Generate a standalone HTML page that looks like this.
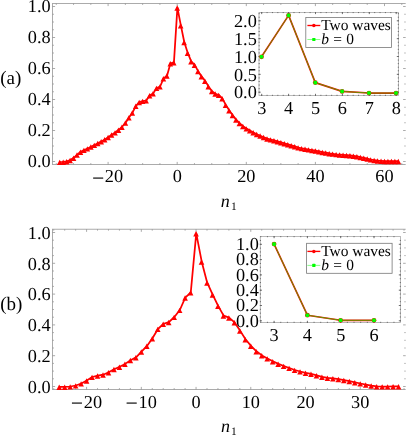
<!DOCTYPE html>
<html><head><meta charset="utf-8"><title>Figure</title>
<style>
html,body{margin:0;padding:0;background:#fff;}
body{width:407px;height:436px;overflow:hidden;font-family:"Liberation Serif",serif;}
svg{display:block;will-change:transform;}
svg text{font-family:"Liberation Serif",serif;fill:#000;text-rendering:geometricPrecision;}
#all{will-change:transform;}
</style></head>
<body>
<svg width="407" height="436" viewBox="0 0 407 436">
<g id="all">
<rect width="407" height="436" fill="#fff"/>
<line x1="52.50" y1="3.50" x2="405.70" y2="3.50" stroke="#8a8a8a" stroke-width="0.72"/>
<line x1="52.50" y1="164.50" x2="405.70" y2="164.50" stroke="#8a8a8a" stroke-width="0.72"/>
<line x1="52.50" y1="3.10" x2="52.50" y2="164.90" stroke="#8a8a8a" stroke-width="0.72"/>
<line x1="56.27" y1="164.50" x2="56.27" y2="163.10" stroke="#8a8a8a" stroke-width="0.72"/>
<line x1="56.27" y1="3.50" x2="56.27" y2="4.90" stroke="#8a8a8a" stroke-width="0.72"/>
<line x1="73.55" y1="164.50" x2="73.55" y2="163.10" stroke="#8a8a8a" stroke-width="0.72"/>
<line x1="73.55" y1="3.50" x2="73.55" y2="4.90" stroke="#8a8a8a" stroke-width="0.72"/>
<line x1="90.82" y1="164.50" x2="90.82" y2="163.10" stroke="#8a8a8a" stroke-width="0.72"/>
<line x1="90.82" y1="3.50" x2="90.82" y2="4.90" stroke="#8a8a8a" stroke-width="0.72"/>
<line x1="108.10" y1="164.50" x2="108.10" y2="161.90" stroke="#8a8a8a" stroke-width="0.72"/>
<line x1="108.10" y1="3.50" x2="108.10" y2="6.10" stroke="#8a8a8a" stroke-width="0.72"/>
<line x1="125.37" y1="164.50" x2="125.37" y2="163.10" stroke="#8a8a8a" stroke-width="0.72"/>
<line x1="125.37" y1="3.50" x2="125.37" y2="4.90" stroke="#8a8a8a" stroke-width="0.72"/>
<line x1="142.65" y1="164.50" x2="142.65" y2="163.10" stroke="#8a8a8a" stroke-width="0.72"/>
<line x1="142.65" y1="3.50" x2="142.65" y2="4.90" stroke="#8a8a8a" stroke-width="0.72"/>
<line x1="159.92" y1="164.50" x2="159.92" y2="163.10" stroke="#8a8a8a" stroke-width="0.72"/>
<line x1="159.92" y1="3.50" x2="159.92" y2="4.90" stroke="#8a8a8a" stroke-width="0.72"/>
<line x1="177.20" y1="164.50" x2="177.20" y2="161.90" stroke="#8a8a8a" stroke-width="0.72"/>
<line x1="177.20" y1="3.50" x2="177.20" y2="6.10" stroke="#8a8a8a" stroke-width="0.72"/>
<line x1="194.47" y1="164.50" x2="194.47" y2="163.10" stroke="#8a8a8a" stroke-width="0.72"/>
<line x1="194.47" y1="3.50" x2="194.47" y2="4.90" stroke="#8a8a8a" stroke-width="0.72"/>
<line x1="211.75" y1="164.50" x2="211.75" y2="163.10" stroke="#8a8a8a" stroke-width="0.72"/>
<line x1="211.75" y1="3.50" x2="211.75" y2="4.90" stroke="#8a8a8a" stroke-width="0.72"/>
<line x1="229.02" y1="164.50" x2="229.02" y2="163.10" stroke="#8a8a8a" stroke-width="0.72"/>
<line x1="229.02" y1="3.50" x2="229.02" y2="4.90" stroke="#8a8a8a" stroke-width="0.72"/>
<line x1="246.30" y1="164.50" x2="246.30" y2="161.90" stroke="#8a8a8a" stroke-width="0.72"/>
<line x1="246.30" y1="3.50" x2="246.30" y2="6.10" stroke="#8a8a8a" stroke-width="0.72"/>
<line x1="263.57" y1="164.50" x2="263.57" y2="163.10" stroke="#8a8a8a" stroke-width="0.72"/>
<line x1="263.57" y1="3.50" x2="263.57" y2="4.90" stroke="#8a8a8a" stroke-width="0.72"/>
<line x1="280.85" y1="164.50" x2="280.85" y2="163.10" stroke="#8a8a8a" stroke-width="0.72"/>
<line x1="280.85" y1="3.50" x2="280.85" y2="4.90" stroke="#8a8a8a" stroke-width="0.72"/>
<line x1="298.12" y1="164.50" x2="298.12" y2="163.10" stroke="#8a8a8a" stroke-width="0.72"/>
<line x1="298.12" y1="3.50" x2="298.12" y2="4.90" stroke="#8a8a8a" stroke-width="0.72"/>
<line x1="315.40" y1="164.50" x2="315.40" y2="161.90" stroke="#8a8a8a" stroke-width="0.72"/>
<line x1="315.40" y1="3.50" x2="315.40" y2="6.10" stroke="#8a8a8a" stroke-width="0.72"/>
<line x1="332.67" y1="164.50" x2="332.67" y2="163.10" stroke="#8a8a8a" stroke-width="0.72"/>
<line x1="332.67" y1="3.50" x2="332.67" y2="4.90" stroke="#8a8a8a" stroke-width="0.72"/>
<line x1="349.95" y1="164.50" x2="349.95" y2="163.10" stroke="#8a8a8a" stroke-width="0.72"/>
<line x1="349.95" y1="3.50" x2="349.95" y2="4.90" stroke="#8a8a8a" stroke-width="0.72"/>
<line x1="367.23" y1="164.50" x2="367.23" y2="163.10" stroke="#8a8a8a" stroke-width="0.72"/>
<line x1="367.23" y1="3.50" x2="367.23" y2="4.90" stroke="#8a8a8a" stroke-width="0.72"/>
<line x1="384.50" y1="164.50" x2="384.50" y2="161.90" stroke="#8a8a8a" stroke-width="0.72"/>
<line x1="384.50" y1="3.50" x2="384.50" y2="6.10" stroke="#8a8a8a" stroke-width="0.72"/>
<line x1="401.77" y1="164.50" x2="401.77" y2="163.10" stroke="#8a8a8a" stroke-width="0.72"/>
<line x1="401.77" y1="3.50" x2="401.77" y2="4.90" stroke="#8a8a8a" stroke-width="0.72"/>
<line x1="52.50" y1="161.50" x2="55.10" y2="161.50" stroke="#8a8a8a" stroke-width="0.72"/>
<line x1="405.70" y1="161.50" x2="403.10" y2="161.50" stroke="#8a8a8a" stroke-width="0.72"/>
<line x1="52.50" y1="153.75" x2="53.90" y2="153.75" stroke="#8a8a8a" stroke-width="0.72"/>
<line x1="405.70" y1="153.75" x2="404.30" y2="153.75" stroke="#8a8a8a" stroke-width="0.72"/>
<line x1="52.50" y1="146.00" x2="53.90" y2="146.00" stroke="#8a8a8a" stroke-width="0.72"/>
<line x1="405.70" y1="146.00" x2="404.30" y2="146.00" stroke="#8a8a8a" stroke-width="0.72"/>
<line x1="52.50" y1="138.25" x2="53.90" y2="138.25" stroke="#8a8a8a" stroke-width="0.72"/>
<line x1="405.70" y1="138.25" x2="404.30" y2="138.25" stroke="#8a8a8a" stroke-width="0.72"/>
<line x1="52.50" y1="130.50" x2="55.10" y2="130.50" stroke="#8a8a8a" stroke-width="0.72"/>
<line x1="405.70" y1="130.50" x2="403.10" y2="130.50" stroke="#8a8a8a" stroke-width="0.72"/>
<line x1="52.50" y1="122.75" x2="53.90" y2="122.75" stroke="#8a8a8a" stroke-width="0.72"/>
<line x1="405.70" y1="122.75" x2="404.30" y2="122.75" stroke="#8a8a8a" stroke-width="0.72"/>
<line x1="52.50" y1="115.00" x2="53.90" y2="115.00" stroke="#8a8a8a" stroke-width="0.72"/>
<line x1="405.70" y1="115.00" x2="404.30" y2="115.00" stroke="#8a8a8a" stroke-width="0.72"/>
<line x1="52.50" y1="107.25" x2="53.90" y2="107.25" stroke="#8a8a8a" stroke-width="0.72"/>
<line x1="405.70" y1="107.25" x2="404.30" y2="107.25" stroke="#8a8a8a" stroke-width="0.72"/>
<line x1="52.50" y1="99.50" x2="55.10" y2="99.50" stroke="#8a8a8a" stroke-width="0.72"/>
<line x1="405.70" y1="99.50" x2="403.10" y2="99.50" stroke="#8a8a8a" stroke-width="0.72"/>
<line x1="52.50" y1="91.75" x2="53.90" y2="91.75" stroke="#8a8a8a" stroke-width="0.72"/>
<line x1="405.70" y1="91.75" x2="404.30" y2="91.75" stroke="#8a8a8a" stroke-width="0.72"/>
<line x1="52.50" y1="84.00" x2="53.90" y2="84.00" stroke="#8a8a8a" stroke-width="0.72"/>
<line x1="405.70" y1="84.00" x2="404.30" y2="84.00" stroke="#8a8a8a" stroke-width="0.72"/>
<line x1="52.50" y1="76.25" x2="53.90" y2="76.25" stroke="#8a8a8a" stroke-width="0.72"/>
<line x1="405.70" y1="76.25" x2="404.30" y2="76.25" stroke="#8a8a8a" stroke-width="0.72"/>
<line x1="52.50" y1="68.50" x2="55.10" y2="68.50" stroke="#8a8a8a" stroke-width="0.72"/>
<line x1="405.70" y1="68.50" x2="403.10" y2="68.50" stroke="#8a8a8a" stroke-width="0.72"/>
<line x1="52.50" y1="60.75" x2="53.90" y2="60.75" stroke="#8a8a8a" stroke-width="0.72"/>
<line x1="405.70" y1="60.75" x2="404.30" y2="60.75" stroke="#8a8a8a" stroke-width="0.72"/>
<line x1="52.50" y1="53.00" x2="53.90" y2="53.00" stroke="#8a8a8a" stroke-width="0.72"/>
<line x1="405.70" y1="53.00" x2="404.30" y2="53.00" stroke="#8a8a8a" stroke-width="0.72"/>
<line x1="52.50" y1="45.25" x2="53.90" y2="45.25" stroke="#8a8a8a" stroke-width="0.72"/>
<line x1="405.70" y1="45.25" x2="404.30" y2="45.25" stroke="#8a8a8a" stroke-width="0.72"/>
<line x1="52.50" y1="37.50" x2="55.10" y2="37.50" stroke="#8a8a8a" stroke-width="0.72"/>
<line x1="405.70" y1="37.50" x2="403.10" y2="37.50" stroke="#8a8a8a" stroke-width="0.72"/>
<line x1="52.50" y1="29.75" x2="53.90" y2="29.75" stroke="#8a8a8a" stroke-width="0.72"/>
<line x1="405.70" y1="29.75" x2="404.30" y2="29.75" stroke="#8a8a8a" stroke-width="0.72"/>
<line x1="52.50" y1="22.00" x2="53.90" y2="22.00" stroke="#8a8a8a" stroke-width="0.72"/>
<line x1="405.70" y1="22.00" x2="404.30" y2="22.00" stroke="#8a8a8a" stroke-width="0.72"/>
<line x1="52.50" y1="14.25" x2="53.90" y2="14.25" stroke="#8a8a8a" stroke-width="0.72"/>
<line x1="405.70" y1="14.25" x2="404.30" y2="14.25" stroke="#8a8a8a" stroke-width="0.72"/>
<line x1="52.50" y1="6.50" x2="55.10" y2="6.50" stroke="#8a8a8a" stroke-width="0.72"/>
<line x1="405.70" y1="6.50" x2="403.10" y2="6.50" stroke="#8a8a8a" stroke-width="0.72"/>
<text x="92.14" y="184.65" font-size="21" stroke="#000" stroke-width="0.2">−</text>
<text x="104.80" y="182.40" font-size="18.3" text-anchor="start" >20</text>
<text x="177.20" y="182.40" font-size="18.3" text-anchor="middle" >0</text>
<text x="246.30" y="182.40" font-size="18.3" text-anchor="middle" >20</text>
<text x="315.40" y="182.40" font-size="18.3" text-anchor="middle" >40</text>
<text x="384.50" y="182.40" font-size="18.3" text-anchor="middle" >60</text>
<text x="50.60" y="167.25" font-size="18.3" text-anchor="end" >0.0</text>
<text x="50.60" y="136.25" font-size="18.3" text-anchor="end" >0.2</text>
<text x="50.60" y="105.25" font-size="18.3" text-anchor="end" >0.4</text>
<text x="50.60" y="74.25" font-size="18.3" text-anchor="end" >0.6</text>
<text x="50.60" y="43.25" font-size="18.3" text-anchor="end" >0.8</text>
<text x="50.60" y="12.25" font-size="18.3" text-anchor="end" >1.0</text>
<polyline points="59.93,162.00 63.38,161.90 66.84,161.40 70.29,160.10 73.75,157.80 77.20,154.60 80.66,151.80 84.11,150.00 87.57,148.50 91.02,146.70 94.48,145.00 97.93,143.20 101.39,141.40 104.84,139.40 108.30,137.20 111.75,134.70 115.21,132.50 118.66,129.80 122.12,126.80 125.57,122.70 129.03,117.50 132.48,112.60 135.94,105.90 139.39,102.20 142.85,101.00 146.30,100.50 149.76,95.30 153.21,93.40 156.67,88.00 160.12,86.50 163.58,78.40 167.03,75.70 170.49,63.30 173.94,62.40 177.40,7.60 180.85,25.30 184.31,42.20 187.76,52.90 191.22,61.30 194.67,64.90 198.13,71.20 201.58,76.40 205.04,80.80 208.49,86.40 211.95,91.20 215.40,93.70 218.86,95.00 222.31,98.30 225.77,104.90 229.22,110.30 232.68,115.20 236.13,119.60 239.59,123.10 243.04,126.10 246.50,128.50 249.95,130.50 253.41,132.40 256.86,134.20 260.32,135.70 263.77,137.20 267.23,138.60 270.69,139.52 274.14,140.44 277.59,141.36 281.05,142.31 284.50,143.35 287.96,144.38 291.41,145.42 294.87,146.45 298.32,147.49 301.78,148.27 305.23,148.88 308.69,149.50 312.14,150.11 315.60,150.72 319.06,151.34 322.51,152.03 325.96,152.72 329.42,153.29 332.87,153.77 336.33,154.26 339.78,154.60 343.24,154.89 346.69,155.17 350.15,155.40 353.60,155.90 357.06,156.40 360.51,157.10 363.97,157.80 367.43,158.65 370.88,159.50 374.33,160.10 377.79,160.70 381.24,160.95 384.70,161.20 388.15,161.20 391.61,161.20 395.06,161.20 398.52,161.20" fill="none" stroke="#f00" stroke-width="1.75" stroke-linejoin="round"/>
<path d="M59.73 159.65L56.93 165.10L62.53 165.10Z" fill="#f00"/>
<path d="M63.18 159.55L60.38 165.00L65.98 165.00Z" fill="#f00"/>
<path d="M66.64 159.05L63.84 164.50L69.44 164.50Z" fill="#f00"/>
<path d="M70.09 157.75L67.29 163.20L72.89 163.20Z" fill="#f00"/>
<path d="M73.55 155.45L70.75 160.90L76.35 160.90Z" fill="#f00"/>
<path d="M77.00 152.25L74.20 157.70L79.80 157.70Z" fill="#f00"/>
<path d="M80.46 149.45L77.66 154.90L83.26 154.90Z" fill="#f00"/>
<path d="M83.91 147.65L81.11 153.10L86.71 153.10Z" fill="#f00"/>
<path d="M87.37 146.15L84.57 151.60L90.17 151.60Z" fill="#f00"/>
<path d="M90.82 144.35L88.02 149.80L93.62 149.80Z" fill="#f00"/>
<path d="M94.28 142.65L91.48 148.10L97.08 148.10Z" fill="#f00"/>
<path d="M97.73 140.85L94.93 146.30L100.53 146.30Z" fill="#f00"/>
<path d="M101.19 139.05L98.39 144.50L103.99 144.50Z" fill="#f00"/>
<path d="M104.64 137.05L101.84 142.50L107.44 142.50Z" fill="#f00"/>
<path d="M108.10 134.85L105.30 140.30L110.90 140.30Z" fill="#f00"/>
<path d="M111.55 132.35L108.75 137.80L114.35 137.80Z" fill="#f00"/>
<path d="M115.01 130.15L112.21 135.60L117.81 135.60Z" fill="#f00"/>
<path d="M118.46 127.45L115.66 132.90L121.26 132.90Z" fill="#f00"/>
<path d="M121.92 124.45L119.12 129.90L124.72 129.90Z" fill="#f00"/>
<path d="M125.37 120.35L122.57 125.80L128.17 125.80Z" fill="#f00"/>
<path d="M128.83 115.15L126.03 120.60L131.63 120.60Z" fill="#f00"/>
<path d="M132.28 110.25L129.48 115.70L135.09 115.70Z" fill="#f00"/>
<path d="M135.74 103.55L132.94 109.00L138.54 109.00Z" fill="#f00"/>
<path d="M139.19 99.85L136.39 105.30L142.00 105.30Z" fill="#f00"/>
<path d="M142.65 98.65L139.85 104.10L145.45 104.10Z" fill="#f00"/>
<path d="M146.10 98.15L143.30 103.60L148.91 103.60Z" fill="#f00"/>
<path d="M149.56 92.95L146.76 98.40L152.36 98.40Z" fill="#f00"/>
<path d="M153.01 91.05L150.21 96.50L155.81 96.50Z" fill="#f00"/>
<path d="M156.47 85.65L153.67 91.10L159.27 91.10Z" fill="#f00"/>
<path d="M159.92 84.15L157.12 89.60L162.72 89.60Z" fill="#f00"/>
<path d="M163.38 76.05L160.58 81.50L166.18 81.50Z" fill="#f00"/>
<path d="M166.83 73.35L164.03 78.80L169.63 78.80Z" fill="#f00"/>
<path d="M170.29 60.95L167.49 66.40L173.09 66.40Z" fill="#f00"/>
<path d="M173.74 60.05L170.94 65.50L176.54 65.50Z" fill="#f00"/>
<path d="M177.20 5.25L174.40 10.70L180.00 10.70Z" fill="#f00"/>
<path d="M180.66 22.95L177.85 28.40L183.46 28.40Z" fill="#f00"/>
<path d="M184.11 39.85L181.31 45.30L186.91 45.30Z" fill="#f00"/>
<path d="M187.56 50.55L184.76 56.00L190.37 56.00Z" fill="#f00"/>
<path d="M191.02 58.95L188.22 64.40L193.82 64.40Z" fill="#f00"/>
<path d="M194.47 62.55L191.67 68.00L197.28 68.00Z" fill="#f00"/>
<path d="M197.93 68.85L195.13 74.30L200.73 74.30Z" fill="#f00"/>
<path d="M201.38 74.05L198.58 79.50L204.19 79.50Z" fill="#f00"/>
<path d="M204.84 78.45L202.04 83.90L207.64 83.90Z" fill="#f00"/>
<path d="M208.29 84.05L205.49 89.50L211.09 89.50Z" fill="#f00"/>
<path d="M211.75 88.85L208.95 94.30L214.55 94.30Z" fill="#f00"/>
<path d="M215.20 91.35L212.40 96.80L218.00 96.80Z" fill="#f00"/>
<path d="M218.66 92.65L215.86 98.10L221.46 98.10Z" fill="#f00"/>
<path d="M222.11 95.95L219.31 101.40L224.91 101.40Z" fill="#f00"/>
<path d="M225.57 102.55L222.77 108.00L228.37 108.00Z" fill="#f00"/>
<path d="M229.02 107.95L226.22 113.40L231.82 113.40Z" fill="#f00"/>
<path d="M232.48 112.85L229.68 118.30L235.28 118.30Z" fill="#f00"/>
<path d="M235.94 117.25L233.13 122.70L238.74 122.70Z" fill="#f00"/>
<path d="M239.39 120.75L236.59 126.20L242.19 126.20Z" fill="#f00"/>
<path d="M242.84 123.75L240.04 129.20L245.64 129.20Z" fill="#f00"/>
<path d="M246.30 126.15L243.50 131.60L249.10 131.60Z" fill="#f00"/>
<path d="M249.75 128.15L246.95 133.60L252.56 133.60Z" fill="#f00"/>
<path d="M253.21 130.05L250.41 135.50L256.01 135.50Z" fill="#f00"/>
<path d="M256.66 131.85L253.86 137.30L259.46 137.30Z" fill="#f00"/>
<path d="M260.12 133.35L257.32 138.80L262.92 138.80Z" fill="#f00"/>
<path d="M263.57 134.85L260.77 140.30L266.38 140.30Z" fill="#f00"/>
<path d="M267.03 136.25L264.23 141.70L269.83 141.70Z" fill="#f00"/>
<path d="M270.49 137.17L267.69 142.62L273.29 142.62Z" fill="#f00"/>
<path d="M273.94 138.09L271.14 143.54L276.74 143.54Z" fill="#f00"/>
<path d="M277.39 139.01L274.59 144.46L280.19 144.46Z" fill="#f00"/>
<path d="M280.85 139.96L278.05 145.41L283.65 145.41Z" fill="#f00"/>
<path d="M284.31 141.00L281.50 146.45L287.11 146.45Z" fill="#f00"/>
<path d="M287.76 142.03L284.96 147.48L290.56 147.48Z" fill="#f00"/>
<path d="M291.21 143.07L288.41 148.52L294.01 148.52Z" fill="#f00"/>
<path d="M294.67 144.10L291.87 149.55L297.47 149.55Z" fill="#f00"/>
<path d="M298.12 145.14L295.32 150.59L300.93 150.59Z" fill="#f00"/>
<path d="M301.58 145.92L298.78 151.37L304.38 151.37Z" fill="#f00"/>
<path d="M305.03 146.53L302.23 151.98L307.83 151.98Z" fill="#f00"/>
<path d="M308.49 147.15L305.69 152.60L311.29 152.60Z" fill="#f00"/>
<path d="M311.94 147.76L309.14 153.21L314.75 153.21Z" fill="#f00"/>
<path d="M315.40 148.37L312.60 153.82L318.20 153.82Z" fill="#f00"/>
<path d="M318.86 148.99L316.06 154.44L321.66 154.44Z" fill="#f00"/>
<path d="M322.31 149.68L319.51 155.13L325.11 155.13Z" fill="#f00"/>
<path d="M325.76 150.37L322.96 155.82L328.56 155.82Z" fill="#f00"/>
<path d="M329.22 150.94L326.42 156.39L332.02 156.39Z" fill="#f00"/>
<path d="M332.67 151.42L329.87 156.87L335.47 156.87Z" fill="#f00"/>
<path d="M336.13 151.91L333.33 157.36L338.93 157.36Z" fill="#f00"/>
<path d="M339.58 152.25L336.78 157.70L342.38 157.70Z" fill="#f00"/>
<path d="M343.04 152.54L340.24 157.99L345.84 157.99Z" fill="#f00"/>
<path d="M346.50 152.82L343.69 158.27L349.30 158.27Z" fill="#f00"/>
<path d="M349.95 153.05L347.15 158.50L352.75 158.50Z" fill="#f00"/>
<path d="M353.40 153.55L350.60 159.00L356.20 159.00Z" fill="#f00"/>
<path d="M356.86 154.05L354.06 159.50L359.66 159.50Z" fill="#f00"/>
<path d="M360.31 154.75L357.51 160.20L363.12 160.20Z" fill="#f00"/>
<path d="M363.77 155.45L360.97 160.90L366.57 160.90Z" fill="#f00"/>
<path d="M367.23 156.30L364.43 161.75L370.03 161.75Z" fill="#f00"/>
<path d="M370.68 157.15L367.88 162.60L373.48 162.60Z" fill="#f00"/>
<path d="M374.13 157.75L371.33 163.20L376.94 163.20Z" fill="#f00"/>
<path d="M377.59 158.35L374.79 163.80L380.39 163.80Z" fill="#f00"/>
<path d="M381.04 158.60L378.24 164.05L383.84 164.05Z" fill="#f00"/>
<path d="M384.50 158.85L381.70 164.30L387.30 164.30Z" fill="#f00"/>
<path d="M387.95 158.85L385.15 164.30L390.75 164.30Z" fill="#f00"/>
<path d="M391.41 158.85L388.61 164.30L394.21 164.30Z" fill="#f00"/>
<path d="M394.87 158.85L392.06 164.30L397.67 164.30Z" fill="#f00"/>
<path d="M398.32 158.85L395.52 164.30L401.12 164.30Z" fill="#f00"/>
<line x1="52.50" y1="229.25" x2="405.70" y2="229.25" stroke="#8a8a8a" stroke-width="0.72"/>
<line x1="52.50" y1="389.50" x2="405.70" y2="389.50" stroke="#8a8a8a" stroke-width="0.72"/>
<line x1="52.50" y1="228.85" x2="52.50" y2="389.90" stroke="#8a8a8a" stroke-width="0.72"/>
<line x1="53.74" y1="389.50" x2="53.74" y2="388.10" stroke="#8a8a8a" stroke-width="0.72"/>
<line x1="53.74" y1="229.25" x2="53.74" y2="230.65" stroke="#8a8a8a" stroke-width="0.72"/>
<line x1="64.69" y1="389.50" x2="64.69" y2="388.10" stroke="#8a8a8a" stroke-width="0.72"/>
<line x1="64.69" y1="229.25" x2="64.69" y2="230.65" stroke="#8a8a8a" stroke-width="0.72"/>
<line x1="75.64" y1="389.50" x2="75.64" y2="388.10" stroke="#8a8a8a" stroke-width="0.72"/>
<line x1="75.64" y1="229.25" x2="75.64" y2="230.65" stroke="#8a8a8a" stroke-width="0.72"/>
<line x1="86.58" y1="389.50" x2="86.58" y2="386.90" stroke="#8a8a8a" stroke-width="0.72"/>
<line x1="86.58" y1="229.25" x2="86.58" y2="231.85" stroke="#8a8a8a" stroke-width="0.72"/>
<line x1="97.53" y1="389.50" x2="97.53" y2="388.10" stroke="#8a8a8a" stroke-width="0.72"/>
<line x1="97.53" y1="229.25" x2="97.53" y2="230.65" stroke="#8a8a8a" stroke-width="0.72"/>
<line x1="108.48" y1="389.50" x2="108.48" y2="388.10" stroke="#8a8a8a" stroke-width="0.72"/>
<line x1="108.48" y1="229.25" x2="108.48" y2="230.65" stroke="#8a8a8a" stroke-width="0.72"/>
<line x1="119.42" y1="389.50" x2="119.42" y2="388.10" stroke="#8a8a8a" stroke-width="0.72"/>
<line x1="119.42" y1="229.25" x2="119.42" y2="230.65" stroke="#8a8a8a" stroke-width="0.72"/>
<line x1="130.37" y1="389.50" x2="130.37" y2="388.10" stroke="#8a8a8a" stroke-width="0.72"/>
<line x1="130.37" y1="229.25" x2="130.37" y2="230.65" stroke="#8a8a8a" stroke-width="0.72"/>
<line x1="141.32" y1="389.50" x2="141.32" y2="386.90" stroke="#8a8a8a" stroke-width="0.72"/>
<line x1="141.32" y1="229.25" x2="141.32" y2="231.85" stroke="#8a8a8a" stroke-width="0.72"/>
<line x1="152.26" y1="389.50" x2="152.26" y2="388.10" stroke="#8a8a8a" stroke-width="0.72"/>
<line x1="152.26" y1="229.25" x2="152.26" y2="230.65" stroke="#8a8a8a" stroke-width="0.72"/>
<line x1="163.21" y1="389.50" x2="163.21" y2="388.10" stroke="#8a8a8a" stroke-width="0.72"/>
<line x1="163.21" y1="229.25" x2="163.21" y2="230.65" stroke="#8a8a8a" stroke-width="0.72"/>
<line x1="174.16" y1="389.50" x2="174.16" y2="388.10" stroke="#8a8a8a" stroke-width="0.72"/>
<line x1="174.16" y1="229.25" x2="174.16" y2="230.65" stroke="#8a8a8a" stroke-width="0.72"/>
<line x1="185.10" y1="389.50" x2="185.10" y2="388.10" stroke="#8a8a8a" stroke-width="0.72"/>
<line x1="185.10" y1="229.25" x2="185.10" y2="230.65" stroke="#8a8a8a" stroke-width="0.72"/>
<line x1="196.05" y1="389.50" x2="196.05" y2="386.90" stroke="#8a8a8a" stroke-width="0.72"/>
<line x1="196.05" y1="229.25" x2="196.05" y2="231.85" stroke="#8a8a8a" stroke-width="0.72"/>
<line x1="207.00" y1="389.50" x2="207.00" y2="388.10" stroke="#8a8a8a" stroke-width="0.72"/>
<line x1="207.00" y1="229.25" x2="207.00" y2="230.65" stroke="#8a8a8a" stroke-width="0.72"/>
<line x1="217.94" y1="389.50" x2="217.94" y2="388.10" stroke="#8a8a8a" stroke-width="0.72"/>
<line x1="217.94" y1="229.25" x2="217.94" y2="230.65" stroke="#8a8a8a" stroke-width="0.72"/>
<line x1="228.89" y1="389.50" x2="228.89" y2="388.10" stroke="#8a8a8a" stroke-width="0.72"/>
<line x1="228.89" y1="229.25" x2="228.89" y2="230.65" stroke="#8a8a8a" stroke-width="0.72"/>
<line x1="239.84" y1="389.50" x2="239.84" y2="388.10" stroke="#8a8a8a" stroke-width="0.72"/>
<line x1="239.84" y1="229.25" x2="239.84" y2="230.65" stroke="#8a8a8a" stroke-width="0.72"/>
<line x1="250.78" y1="389.50" x2="250.78" y2="386.90" stroke="#8a8a8a" stroke-width="0.72"/>
<line x1="250.78" y1="229.25" x2="250.78" y2="231.85" stroke="#8a8a8a" stroke-width="0.72"/>
<line x1="261.73" y1="389.50" x2="261.73" y2="388.10" stroke="#8a8a8a" stroke-width="0.72"/>
<line x1="261.73" y1="229.25" x2="261.73" y2="230.65" stroke="#8a8a8a" stroke-width="0.72"/>
<line x1="272.68" y1="389.50" x2="272.68" y2="388.10" stroke="#8a8a8a" stroke-width="0.72"/>
<line x1="272.68" y1="229.25" x2="272.68" y2="230.65" stroke="#8a8a8a" stroke-width="0.72"/>
<line x1="283.62" y1="389.50" x2="283.62" y2="388.10" stroke="#8a8a8a" stroke-width="0.72"/>
<line x1="283.62" y1="229.25" x2="283.62" y2="230.65" stroke="#8a8a8a" stroke-width="0.72"/>
<line x1="294.57" y1="389.50" x2="294.57" y2="388.10" stroke="#8a8a8a" stroke-width="0.72"/>
<line x1="294.57" y1="229.25" x2="294.57" y2="230.65" stroke="#8a8a8a" stroke-width="0.72"/>
<line x1="305.52" y1="389.50" x2="305.52" y2="386.90" stroke="#8a8a8a" stroke-width="0.72"/>
<line x1="305.52" y1="229.25" x2="305.52" y2="231.85" stroke="#8a8a8a" stroke-width="0.72"/>
<line x1="316.46" y1="389.50" x2="316.46" y2="388.10" stroke="#8a8a8a" stroke-width="0.72"/>
<line x1="316.46" y1="229.25" x2="316.46" y2="230.65" stroke="#8a8a8a" stroke-width="0.72"/>
<line x1="327.41" y1="389.50" x2="327.41" y2="388.10" stroke="#8a8a8a" stroke-width="0.72"/>
<line x1="327.41" y1="229.25" x2="327.41" y2="230.65" stroke="#8a8a8a" stroke-width="0.72"/>
<line x1="338.36" y1="389.50" x2="338.36" y2="388.10" stroke="#8a8a8a" stroke-width="0.72"/>
<line x1="338.36" y1="229.25" x2="338.36" y2="230.65" stroke="#8a8a8a" stroke-width="0.72"/>
<line x1="349.31" y1="389.50" x2="349.31" y2="388.10" stroke="#8a8a8a" stroke-width="0.72"/>
<line x1="349.31" y1="229.25" x2="349.31" y2="230.65" stroke="#8a8a8a" stroke-width="0.72"/>
<line x1="360.25" y1="389.50" x2="360.25" y2="386.90" stroke="#8a8a8a" stroke-width="0.72"/>
<line x1="360.25" y1="229.25" x2="360.25" y2="231.85" stroke="#8a8a8a" stroke-width="0.72"/>
<line x1="371.20" y1="389.50" x2="371.20" y2="388.10" stroke="#8a8a8a" stroke-width="0.72"/>
<line x1="371.20" y1="229.25" x2="371.20" y2="230.65" stroke="#8a8a8a" stroke-width="0.72"/>
<line x1="382.15" y1="389.50" x2="382.15" y2="388.10" stroke="#8a8a8a" stroke-width="0.72"/>
<line x1="382.15" y1="229.25" x2="382.15" y2="230.65" stroke="#8a8a8a" stroke-width="0.72"/>
<line x1="393.09" y1="389.50" x2="393.09" y2="388.10" stroke="#8a8a8a" stroke-width="0.72"/>
<line x1="393.09" y1="229.25" x2="393.09" y2="230.65" stroke="#8a8a8a" stroke-width="0.72"/>
<line x1="404.04" y1="389.50" x2="404.04" y2="388.10" stroke="#8a8a8a" stroke-width="0.72"/>
<line x1="404.04" y1="229.25" x2="404.04" y2="230.65" stroke="#8a8a8a" stroke-width="0.72"/>
<line x1="52.50" y1="386.50" x2="55.10" y2="386.50" stroke="#8a8a8a" stroke-width="0.72"/>
<line x1="405.70" y1="386.50" x2="403.10" y2="386.50" stroke="#8a8a8a" stroke-width="0.72"/>
<line x1="52.50" y1="378.80" x2="53.90" y2="378.80" stroke="#8a8a8a" stroke-width="0.72"/>
<line x1="405.70" y1="378.80" x2="404.30" y2="378.80" stroke="#8a8a8a" stroke-width="0.72"/>
<line x1="52.50" y1="371.10" x2="53.90" y2="371.10" stroke="#8a8a8a" stroke-width="0.72"/>
<line x1="405.70" y1="371.10" x2="404.30" y2="371.10" stroke="#8a8a8a" stroke-width="0.72"/>
<line x1="52.50" y1="363.40" x2="53.90" y2="363.40" stroke="#8a8a8a" stroke-width="0.72"/>
<line x1="405.70" y1="363.40" x2="404.30" y2="363.40" stroke="#8a8a8a" stroke-width="0.72"/>
<line x1="52.50" y1="355.70" x2="55.10" y2="355.70" stroke="#8a8a8a" stroke-width="0.72"/>
<line x1="405.70" y1="355.70" x2="403.10" y2="355.70" stroke="#8a8a8a" stroke-width="0.72"/>
<line x1="52.50" y1="348.00" x2="53.90" y2="348.00" stroke="#8a8a8a" stroke-width="0.72"/>
<line x1="405.70" y1="348.00" x2="404.30" y2="348.00" stroke="#8a8a8a" stroke-width="0.72"/>
<line x1="52.50" y1="340.30" x2="53.90" y2="340.30" stroke="#8a8a8a" stroke-width="0.72"/>
<line x1="405.70" y1="340.30" x2="404.30" y2="340.30" stroke="#8a8a8a" stroke-width="0.72"/>
<line x1="52.50" y1="332.60" x2="53.90" y2="332.60" stroke="#8a8a8a" stroke-width="0.72"/>
<line x1="405.70" y1="332.60" x2="404.30" y2="332.60" stroke="#8a8a8a" stroke-width="0.72"/>
<line x1="52.50" y1="324.90" x2="55.10" y2="324.90" stroke="#8a8a8a" stroke-width="0.72"/>
<line x1="405.70" y1="324.90" x2="403.10" y2="324.90" stroke="#8a8a8a" stroke-width="0.72"/>
<line x1="52.50" y1="317.20" x2="53.90" y2="317.20" stroke="#8a8a8a" stroke-width="0.72"/>
<line x1="405.70" y1="317.20" x2="404.30" y2="317.20" stroke="#8a8a8a" stroke-width="0.72"/>
<line x1="52.50" y1="309.50" x2="53.90" y2="309.50" stroke="#8a8a8a" stroke-width="0.72"/>
<line x1="405.70" y1="309.50" x2="404.30" y2="309.50" stroke="#8a8a8a" stroke-width="0.72"/>
<line x1="52.50" y1="301.80" x2="53.90" y2="301.80" stroke="#8a8a8a" stroke-width="0.72"/>
<line x1="405.70" y1="301.80" x2="404.30" y2="301.80" stroke="#8a8a8a" stroke-width="0.72"/>
<line x1="52.50" y1="294.10" x2="55.10" y2="294.10" stroke="#8a8a8a" stroke-width="0.72"/>
<line x1="405.70" y1="294.10" x2="403.10" y2="294.10" stroke="#8a8a8a" stroke-width="0.72"/>
<line x1="52.50" y1="286.40" x2="53.90" y2="286.40" stroke="#8a8a8a" stroke-width="0.72"/>
<line x1="405.70" y1="286.40" x2="404.30" y2="286.40" stroke="#8a8a8a" stroke-width="0.72"/>
<line x1="52.50" y1="278.70" x2="53.90" y2="278.70" stroke="#8a8a8a" stroke-width="0.72"/>
<line x1="405.70" y1="278.70" x2="404.30" y2="278.70" stroke="#8a8a8a" stroke-width="0.72"/>
<line x1="52.50" y1="271.00" x2="53.90" y2="271.00" stroke="#8a8a8a" stroke-width="0.72"/>
<line x1="405.70" y1="271.00" x2="404.30" y2="271.00" stroke="#8a8a8a" stroke-width="0.72"/>
<line x1="52.50" y1="263.30" x2="55.10" y2="263.30" stroke="#8a8a8a" stroke-width="0.72"/>
<line x1="405.70" y1="263.30" x2="403.10" y2="263.30" stroke="#8a8a8a" stroke-width="0.72"/>
<line x1="52.50" y1="255.60" x2="53.90" y2="255.60" stroke="#8a8a8a" stroke-width="0.72"/>
<line x1="405.70" y1="255.60" x2="404.30" y2="255.60" stroke="#8a8a8a" stroke-width="0.72"/>
<line x1="52.50" y1="247.90" x2="53.90" y2="247.90" stroke="#8a8a8a" stroke-width="0.72"/>
<line x1="405.70" y1="247.90" x2="404.30" y2="247.90" stroke="#8a8a8a" stroke-width="0.72"/>
<line x1="52.50" y1="240.20" x2="53.90" y2="240.20" stroke="#8a8a8a" stroke-width="0.72"/>
<line x1="405.70" y1="240.20" x2="404.30" y2="240.20" stroke="#8a8a8a" stroke-width="0.72"/>
<line x1="52.50" y1="232.50" x2="55.10" y2="232.50" stroke="#8a8a8a" stroke-width="0.72"/>
<line x1="405.70" y1="232.50" x2="403.10" y2="232.50" stroke="#8a8a8a" stroke-width="0.72"/>
<text x="71.02" y="410.05" font-size="21" stroke="#000" stroke-width="0.2">−</text>
<text x="83.78" y="407.80" font-size="18.3" text-anchor="start" >20</text>
<text x="125.76" y="410.05" font-size="21" stroke="#000" stroke-width="0.2">−</text>
<text x="138.52" y="407.80" font-size="18.3" text-anchor="start" >10</text>
<text x="196.05" y="407.80" font-size="18.3" text-anchor="middle" >0</text>
<text x="250.78" y="407.80" font-size="18.3" text-anchor="middle" >10</text>
<text x="305.52" y="407.80" font-size="18.3" text-anchor="middle" >20</text>
<text x="360.25" y="407.80" font-size="18.3" text-anchor="middle" >30</text>
<text x="50.60" y="393.10" font-size="18.3" text-anchor="end" >0.0</text>
<text x="50.60" y="362.20" font-size="18.3" text-anchor="end" >0.2</text>
<text x="50.60" y="331.30" font-size="18.3" text-anchor="end" >0.4</text>
<text x="50.60" y="300.40" font-size="18.3" text-anchor="end" >0.6</text>
<text x="50.60" y="269.50" font-size="18.3" text-anchor="end" >0.8</text>
<text x="50.60" y="238.60" font-size="18.3" text-anchor="end" >1.0</text>
<polyline points="59.42,386.90 64.89,386.90 70.36,386.50 75.84,385.50 81.31,383.50 86.78,380.60 92.26,377.00 97.73,375.70 103.20,374.70 108.68,372.30 114.15,369.20 119.62,366.80 125.10,363.90 130.57,360.20 136.04,357.40 141.52,351.70 146.99,345.90 152.46,338.30 157.94,329.00 163.41,323.80 168.88,322.20 174.36,317.00 179.83,310.00 185.30,297.70 190.78,292.40 196.25,233.30 201.72,261.70 207.20,282.70 212.67,294.60 218.14,305.90 223.62,315.60 229.09,317.60 234.56,322.40 240.04,330.60 245.51,339.30 250.98,345.90 256.46,351.30 261.93,355.40 267.40,358.50 272.88,361.30 278.35,363.90 283.82,366.00 289.30,368.00 294.77,370.00 300.24,371.50 305.72,372.90 311.19,373.90 316.66,375.30 322.14,376.80 327.61,377.80 333.08,378.40 338.56,379.20 344.03,380.20 349.51,381.10 354.98,382.40 360.45,383.50 365.93,384.70 371.40,385.60 376.87,386.30 382.35,386.50 387.82,386.50 393.29,386.30 398.77,386.30" fill="none" stroke="#f00" stroke-width="1.75" stroke-linejoin="round"/>
<path d="M59.22 384.55L56.42 390.00L62.02 390.00Z" fill="#f00"/>
<path d="M64.69 384.55L61.89 390.00L67.49 390.00Z" fill="#f00"/>
<path d="M70.16 384.15L67.36 389.60L72.96 389.60Z" fill="#f00"/>
<path d="M75.64 383.15L72.84 388.60L78.44 388.60Z" fill="#f00"/>
<path d="M81.11 381.15L78.31 386.60L83.91 386.60Z" fill="#f00"/>
<path d="M86.58 378.25L83.78 383.70L89.38 383.70Z" fill="#f00"/>
<path d="M92.06 374.65L89.26 380.10L94.86 380.10Z" fill="#f00"/>
<path d="M97.53 373.35L94.73 378.80L100.33 378.80Z" fill="#f00"/>
<path d="M103.00 372.35L100.20 377.80L105.80 377.80Z" fill="#f00"/>
<path d="M108.48 369.95L105.68 375.40L111.28 375.40Z" fill="#f00"/>
<path d="M113.95 366.85L111.15 372.30L116.75 372.30Z" fill="#f00"/>
<path d="M119.42 364.45L116.62 369.90L122.22 369.90Z" fill="#f00"/>
<path d="M124.90 361.55L122.10 367.00L127.70 367.00Z" fill="#f00"/>
<path d="M130.37 357.85L127.57 363.30L133.17 363.30Z" fill="#f00"/>
<path d="M135.84 355.05L133.04 360.50L138.64 360.50Z" fill="#f00"/>
<path d="M141.32 349.35L138.52 354.80L144.12 354.80Z" fill="#f00"/>
<path d="M146.79 343.55L143.99 349.00L149.59 349.00Z" fill="#f00"/>
<path d="M152.26 335.95L149.46 341.40L155.06 341.40Z" fill="#f00"/>
<path d="M157.74 326.65L154.94 332.10L160.54 332.10Z" fill="#f00"/>
<path d="M163.21 321.45L160.41 326.90L166.01 326.90Z" fill="#f00"/>
<path d="M168.68 319.85L165.88 325.30L171.48 325.30Z" fill="#f00"/>
<path d="M174.16 314.65L171.36 320.10L176.96 320.10Z" fill="#f00"/>
<path d="M179.63 307.65L176.83 313.10L182.43 313.10Z" fill="#f00"/>
<path d="M185.10 295.35L182.30 300.80L187.90 300.80Z" fill="#f00"/>
<path d="M190.58 290.05L187.78 295.50L193.38 295.50Z" fill="#f00"/>
<path d="M196.05 230.95L193.25 236.40L198.85 236.40Z" fill="#f00"/>
<path d="M201.52 259.35L198.72 264.80L204.32 264.80Z" fill="#f00"/>
<path d="M207.00 280.35L204.20 285.80L209.80 285.80Z" fill="#f00"/>
<path d="M212.47 292.25L209.67 297.70L215.27 297.70Z" fill="#f00"/>
<path d="M217.94 303.55L215.14 309.00L220.74 309.00Z" fill="#f00"/>
<path d="M223.42 313.25L220.62 318.70L226.22 318.70Z" fill="#f00"/>
<path d="M228.89 315.25L226.09 320.70L231.69 320.70Z" fill="#f00"/>
<path d="M234.36 320.05L231.56 325.50L237.16 325.50Z" fill="#f00"/>
<path d="M239.84 328.25L237.04 333.70L242.64 333.70Z" fill="#f00"/>
<path d="M245.31 336.95L242.51 342.40L248.11 342.40Z" fill="#f00"/>
<path d="M250.78 343.55L247.98 349.00L253.58 349.00Z" fill="#f00"/>
<path d="M256.26 348.95L253.46 354.40L259.06 354.40Z" fill="#f00"/>
<path d="M261.73 353.05L258.93 358.50L264.53 358.50Z" fill="#f00"/>
<path d="M267.20 356.15L264.40 361.60L270.00 361.60Z" fill="#f00"/>
<path d="M272.68 358.95L269.88 364.40L275.48 364.40Z" fill="#f00"/>
<path d="M278.15 361.55L275.35 367.00L280.95 367.00Z" fill="#f00"/>
<path d="M283.62 363.65L280.82 369.10L286.42 369.10Z" fill="#f00"/>
<path d="M289.10 365.65L286.30 371.10L291.90 371.10Z" fill="#f00"/>
<path d="M294.57 367.65L291.77 373.10L297.37 373.10Z" fill="#f00"/>
<path d="M300.04 369.15L297.24 374.60L302.84 374.60Z" fill="#f00"/>
<path d="M305.52 370.55L302.72 376.00L308.32 376.00Z" fill="#f00"/>
<path d="M310.99 371.55L308.19 377.00L313.79 377.00Z" fill="#f00"/>
<path d="M316.46 372.95L313.66 378.40L319.26 378.40Z" fill="#f00"/>
<path d="M321.94 374.45L319.14 379.90L324.74 379.90Z" fill="#f00"/>
<path d="M327.41 375.45L324.61 380.90L330.21 380.90Z" fill="#f00"/>
<path d="M332.88 376.05L330.08 381.50L335.69 381.50Z" fill="#f00"/>
<path d="M338.36 376.85L335.56 382.30L341.16 382.30Z" fill="#f00"/>
<path d="M343.83 377.85L341.03 383.30L346.63 383.30Z" fill="#f00"/>
<path d="M349.31 378.75L346.51 384.20L352.11 384.20Z" fill="#f00"/>
<path d="M354.78 380.05L351.98 385.50L357.58 385.50Z" fill="#f00"/>
<path d="M360.25 381.15L357.45 386.60L363.05 386.60Z" fill="#f00"/>
<path d="M365.73 382.35L362.93 387.80L368.53 387.80Z" fill="#f00"/>
<path d="M371.20 383.25L368.40 388.70L374.00 388.70Z" fill="#f00"/>
<path d="M376.67 383.95L373.87 389.40L379.47 389.40Z" fill="#f00"/>
<path d="M382.15 384.15L379.35 389.60L384.95 389.60Z" fill="#f00"/>
<path d="M387.62 384.15L384.82 389.60L390.42 389.60Z" fill="#f00"/>
<path d="M393.09 383.95L390.29 389.40L395.89 389.40Z" fill="#f00"/>
<path d="M398.57 383.95L395.77 389.40L401.37 389.40Z" fill="#f00"/>
<text x="0.20" y="83.60" font-size="19" text-anchor="start" >(a)</text>
<text x="0.20" y="309.80" font-size="19" text-anchor="start" >(b)</text>
<text x="220.8" y="206.9" font-size="18" font-style="italic">n<tspan font-size="11.5" font-style="normal" dy="3" dx="1.2">1</tspan></text>
<text x="220.9" y="432.3" font-size="18" font-style="italic">n<tspan font-size="11.5" font-style="normal" dy="3" dx="1.2">1</tspan></text>
<rect x="259.0" y="12.4" width="139.5" height="83.1" fill="#fff" stroke="#a8a8a8" stroke-width="0.8"/>
<line x1="261.70" y1="95.90" x2="261.70" y2="94.80" stroke="#626262" stroke-width="0.9"/>
<line x1="261.70" y1="12.00" x2="261.70" y2="13.10" stroke="#626262" stroke-width="0.9"/>
<line x1="267.08" y1="95.90" x2="267.08" y2="94.80" stroke="#626262" stroke-width="0.9"/>
<line x1="267.08" y1="12.00" x2="267.08" y2="13.10" stroke="#626262" stroke-width="0.9"/>
<line x1="272.46" y1="95.90" x2="272.46" y2="94.80" stroke="#626262" stroke-width="0.9"/>
<line x1="272.46" y1="12.00" x2="272.46" y2="13.10" stroke="#626262" stroke-width="0.9"/>
<line x1="277.84" y1="95.90" x2="277.84" y2="94.80" stroke="#626262" stroke-width="0.9"/>
<line x1="277.84" y1="12.00" x2="277.84" y2="13.10" stroke="#626262" stroke-width="0.9"/>
<line x1="283.22" y1="95.90" x2="283.22" y2="94.80" stroke="#626262" stroke-width="0.9"/>
<line x1="283.22" y1="12.00" x2="283.22" y2="13.10" stroke="#626262" stroke-width="0.9"/>
<line x1="288.60" y1="95.90" x2="288.60" y2="94.80" stroke="#626262" stroke-width="0.9"/>
<line x1="288.60" y1="12.00" x2="288.60" y2="13.10" stroke="#626262" stroke-width="0.9"/>
<line x1="293.98" y1="95.90" x2="293.98" y2="94.80" stroke="#626262" stroke-width="0.9"/>
<line x1="293.98" y1="12.00" x2="293.98" y2="13.10" stroke="#626262" stroke-width="0.9"/>
<line x1="299.36" y1="95.90" x2="299.36" y2="94.80" stroke="#626262" stroke-width="0.9"/>
<line x1="299.36" y1="12.00" x2="299.36" y2="13.10" stroke="#626262" stroke-width="0.9"/>
<line x1="304.74" y1="95.90" x2="304.74" y2="94.80" stroke="#626262" stroke-width="0.9"/>
<line x1="304.74" y1="12.00" x2="304.74" y2="13.10" stroke="#626262" stroke-width="0.9"/>
<line x1="310.12" y1="95.90" x2="310.12" y2="94.80" stroke="#626262" stroke-width="0.9"/>
<line x1="310.12" y1="12.00" x2="310.12" y2="13.10" stroke="#626262" stroke-width="0.9"/>
<line x1="315.50" y1="95.90" x2="315.50" y2="94.80" stroke="#626262" stroke-width="0.9"/>
<line x1="315.50" y1="12.00" x2="315.50" y2="13.10" stroke="#626262" stroke-width="0.9"/>
<line x1="320.88" y1="95.90" x2="320.88" y2="94.80" stroke="#626262" stroke-width="0.9"/>
<line x1="320.88" y1="12.00" x2="320.88" y2="13.10" stroke="#626262" stroke-width="0.9"/>
<line x1="326.26" y1="95.90" x2="326.26" y2="94.80" stroke="#626262" stroke-width="0.9"/>
<line x1="326.26" y1="12.00" x2="326.26" y2="13.10" stroke="#626262" stroke-width="0.9"/>
<line x1="331.64" y1="95.90" x2="331.64" y2="94.80" stroke="#626262" stroke-width="0.9"/>
<line x1="331.64" y1="12.00" x2="331.64" y2="13.10" stroke="#626262" stroke-width="0.9"/>
<line x1="337.02" y1="95.90" x2="337.02" y2="94.80" stroke="#626262" stroke-width="0.9"/>
<line x1="337.02" y1="12.00" x2="337.02" y2="13.10" stroke="#626262" stroke-width="0.9"/>
<line x1="342.40" y1="95.90" x2="342.40" y2="94.80" stroke="#626262" stroke-width="0.9"/>
<line x1="342.40" y1="12.00" x2="342.40" y2="13.10" stroke="#626262" stroke-width="0.9"/>
<line x1="347.78" y1="95.90" x2="347.78" y2="94.80" stroke="#626262" stroke-width="0.9"/>
<line x1="347.78" y1="12.00" x2="347.78" y2="13.10" stroke="#626262" stroke-width="0.9"/>
<line x1="353.16" y1="95.90" x2="353.16" y2="94.80" stroke="#626262" stroke-width="0.9"/>
<line x1="353.16" y1="12.00" x2="353.16" y2="13.10" stroke="#626262" stroke-width="0.9"/>
<line x1="358.54" y1="95.90" x2="358.54" y2="94.80" stroke="#626262" stroke-width="0.9"/>
<line x1="358.54" y1="12.00" x2="358.54" y2="13.10" stroke="#626262" stroke-width="0.9"/>
<line x1="363.92" y1="95.90" x2="363.92" y2="94.80" stroke="#626262" stroke-width="0.9"/>
<line x1="363.92" y1="12.00" x2="363.92" y2="13.10" stroke="#626262" stroke-width="0.9"/>
<line x1="369.30" y1="95.90" x2="369.30" y2="94.80" stroke="#626262" stroke-width="0.9"/>
<line x1="369.30" y1="12.00" x2="369.30" y2="13.10" stroke="#626262" stroke-width="0.9"/>
<line x1="374.68" y1="95.90" x2="374.68" y2="94.80" stroke="#626262" stroke-width="0.9"/>
<line x1="374.68" y1="12.00" x2="374.68" y2="13.10" stroke="#626262" stroke-width="0.9"/>
<line x1="380.06" y1="95.90" x2="380.06" y2="94.80" stroke="#626262" stroke-width="0.9"/>
<line x1="380.06" y1="12.00" x2="380.06" y2="13.10" stroke="#626262" stroke-width="0.9"/>
<line x1="385.44" y1="95.90" x2="385.44" y2="94.80" stroke="#626262" stroke-width="0.9"/>
<line x1="385.44" y1="12.00" x2="385.44" y2="13.10" stroke="#626262" stroke-width="0.9"/>
<line x1="390.82" y1="95.90" x2="390.82" y2="94.80" stroke="#626262" stroke-width="0.9"/>
<line x1="390.82" y1="12.00" x2="390.82" y2="13.10" stroke="#626262" stroke-width="0.9"/>
<line x1="396.20" y1="95.90" x2="396.20" y2="94.80" stroke="#626262" stroke-width="0.9"/>
<line x1="396.20" y1="12.00" x2="396.20" y2="13.10" stroke="#626262" stroke-width="0.9"/>
<line x1="261.70" y1="95.90" x2="261.70" y2="93.80" stroke="#626262" stroke-width="0.9"/>
<line x1="261.70" y1="12.00" x2="261.70" y2="14.10" stroke="#626262" stroke-width="0.9"/>
<line x1="288.60" y1="95.90" x2="288.60" y2="93.80" stroke="#626262" stroke-width="0.9"/>
<line x1="288.60" y1="12.00" x2="288.60" y2="14.10" stroke="#626262" stroke-width="0.9"/>
<line x1="315.50" y1="95.90" x2="315.50" y2="93.80" stroke="#626262" stroke-width="0.9"/>
<line x1="315.50" y1="12.00" x2="315.50" y2="14.10" stroke="#626262" stroke-width="0.9"/>
<line x1="342.40" y1="95.90" x2="342.40" y2="93.80" stroke="#626262" stroke-width="0.9"/>
<line x1="342.40" y1="12.00" x2="342.40" y2="14.10" stroke="#626262" stroke-width="0.9"/>
<line x1="369.30" y1="95.90" x2="369.30" y2="93.80" stroke="#626262" stroke-width="0.9"/>
<line x1="369.30" y1="12.00" x2="369.30" y2="14.10" stroke="#626262" stroke-width="0.9"/>
<line x1="396.20" y1="95.90" x2="396.20" y2="93.80" stroke="#626262" stroke-width="0.9"/>
<line x1="396.20" y1="12.00" x2="396.20" y2="14.10" stroke="#626262" stroke-width="0.9"/>
<line x1="258.60" y1="92.20" x2="259.70" y2="92.20" stroke="#626262" stroke-width="0.9"/>
<line x1="398.90" y1="92.20" x2="397.80" y2="92.20" stroke="#626262" stroke-width="0.9"/>
<line x1="258.60" y1="88.63" x2="259.70" y2="88.63" stroke="#626262" stroke-width="0.9"/>
<line x1="398.90" y1="88.63" x2="397.80" y2="88.63" stroke="#626262" stroke-width="0.9"/>
<line x1="258.60" y1="85.06" x2="259.70" y2="85.06" stroke="#626262" stroke-width="0.9"/>
<line x1="398.90" y1="85.06" x2="397.80" y2="85.06" stroke="#626262" stroke-width="0.9"/>
<line x1="258.60" y1="81.49" x2="259.70" y2="81.49" stroke="#626262" stroke-width="0.9"/>
<line x1="398.90" y1="81.49" x2="397.80" y2="81.49" stroke="#626262" stroke-width="0.9"/>
<line x1="258.60" y1="77.92" x2="259.70" y2="77.92" stroke="#626262" stroke-width="0.9"/>
<line x1="398.90" y1="77.92" x2="397.80" y2="77.92" stroke="#626262" stroke-width="0.9"/>
<line x1="258.60" y1="74.35" x2="259.70" y2="74.35" stroke="#626262" stroke-width="0.9"/>
<line x1="398.90" y1="74.35" x2="397.80" y2="74.35" stroke="#626262" stroke-width="0.9"/>
<line x1="258.60" y1="70.78" x2="259.70" y2="70.78" stroke="#626262" stroke-width="0.9"/>
<line x1="398.90" y1="70.78" x2="397.80" y2="70.78" stroke="#626262" stroke-width="0.9"/>
<line x1="258.60" y1="67.21" x2="259.70" y2="67.21" stroke="#626262" stroke-width="0.9"/>
<line x1="398.90" y1="67.21" x2="397.80" y2="67.21" stroke="#626262" stroke-width="0.9"/>
<line x1="258.60" y1="63.64" x2="259.70" y2="63.64" stroke="#626262" stroke-width="0.9"/>
<line x1="398.90" y1="63.64" x2="397.80" y2="63.64" stroke="#626262" stroke-width="0.9"/>
<line x1="258.60" y1="60.07" x2="259.70" y2="60.07" stroke="#626262" stroke-width="0.9"/>
<line x1="398.90" y1="60.07" x2="397.80" y2="60.07" stroke="#626262" stroke-width="0.9"/>
<line x1="258.60" y1="56.50" x2="259.70" y2="56.50" stroke="#626262" stroke-width="0.9"/>
<line x1="398.90" y1="56.50" x2="397.80" y2="56.50" stroke="#626262" stroke-width="0.9"/>
<line x1="258.60" y1="52.93" x2="259.70" y2="52.93" stroke="#626262" stroke-width="0.9"/>
<line x1="398.90" y1="52.93" x2="397.80" y2="52.93" stroke="#626262" stroke-width="0.9"/>
<line x1="258.60" y1="49.36" x2="259.70" y2="49.36" stroke="#626262" stroke-width="0.9"/>
<line x1="398.90" y1="49.36" x2="397.80" y2="49.36" stroke="#626262" stroke-width="0.9"/>
<line x1="258.60" y1="45.79" x2="259.70" y2="45.79" stroke="#626262" stroke-width="0.9"/>
<line x1="398.90" y1="45.79" x2="397.80" y2="45.79" stroke="#626262" stroke-width="0.9"/>
<line x1="258.60" y1="42.22" x2="259.70" y2="42.22" stroke="#626262" stroke-width="0.9"/>
<line x1="398.90" y1="42.22" x2="397.80" y2="42.22" stroke="#626262" stroke-width="0.9"/>
<line x1="258.60" y1="38.65" x2="259.70" y2="38.65" stroke="#626262" stroke-width="0.9"/>
<line x1="398.90" y1="38.65" x2="397.80" y2="38.65" stroke="#626262" stroke-width="0.9"/>
<line x1="258.60" y1="35.08" x2="259.70" y2="35.08" stroke="#626262" stroke-width="0.9"/>
<line x1="398.90" y1="35.08" x2="397.80" y2="35.08" stroke="#626262" stroke-width="0.9"/>
<line x1="258.60" y1="31.51" x2="259.70" y2="31.51" stroke="#626262" stroke-width="0.9"/>
<line x1="398.90" y1="31.51" x2="397.80" y2="31.51" stroke="#626262" stroke-width="0.9"/>
<line x1="258.60" y1="27.94" x2="259.70" y2="27.94" stroke="#626262" stroke-width="0.9"/>
<line x1="398.90" y1="27.94" x2="397.80" y2="27.94" stroke="#626262" stroke-width="0.9"/>
<line x1="258.60" y1="24.37" x2="259.70" y2="24.37" stroke="#626262" stroke-width="0.9"/>
<line x1="398.90" y1="24.37" x2="397.80" y2="24.37" stroke="#626262" stroke-width="0.9"/>
<line x1="258.60" y1="20.80" x2="259.70" y2="20.80" stroke="#626262" stroke-width="0.9"/>
<line x1="398.90" y1="20.80" x2="397.80" y2="20.80" stroke="#626262" stroke-width="0.9"/>
<line x1="258.60" y1="17.23" x2="259.70" y2="17.23" stroke="#626262" stroke-width="0.9"/>
<line x1="398.90" y1="17.23" x2="397.80" y2="17.23" stroke="#626262" stroke-width="0.9"/>
<line x1="258.60" y1="13.66" x2="259.70" y2="13.66" stroke="#626262" stroke-width="0.9"/>
<line x1="398.90" y1="13.66" x2="397.80" y2="13.66" stroke="#626262" stroke-width="0.9"/>
<line x1="258.60" y1="92.20" x2="260.70" y2="92.20" stroke="#626262" stroke-width="0.9"/>
<line x1="398.90" y1="92.20" x2="396.80" y2="92.20" stroke="#626262" stroke-width="0.9"/>
<line x1="258.60" y1="74.35" x2="260.70" y2="74.35" stroke="#626262" stroke-width="0.9"/>
<line x1="398.90" y1="74.35" x2="396.80" y2="74.35" stroke="#626262" stroke-width="0.9"/>
<line x1="258.60" y1="56.50" x2="260.70" y2="56.50" stroke="#626262" stroke-width="0.9"/>
<line x1="398.90" y1="56.50" x2="396.80" y2="56.50" stroke="#626262" stroke-width="0.9"/>
<line x1="258.60" y1="38.65" x2="260.70" y2="38.65" stroke="#626262" stroke-width="0.9"/>
<line x1="398.90" y1="38.65" x2="396.80" y2="38.65" stroke="#626262" stroke-width="0.9"/>
<line x1="258.60" y1="20.80" x2="260.70" y2="20.80" stroke="#626262" stroke-width="0.9"/>
<line x1="398.90" y1="20.80" x2="396.80" y2="20.80" stroke="#626262" stroke-width="0.9"/>
<text x="261.70" y="114.30" font-size="18.3" text-anchor="middle" >3</text>
<text x="288.60" y="114.30" font-size="18.3" text-anchor="middle" >4</text>
<text x="315.50" y="114.30" font-size="18.3" text-anchor="middle" >5</text>
<text x="342.40" y="114.30" font-size="18.3" text-anchor="middle" >6</text>
<text x="369.30" y="114.30" font-size="18.3" text-anchor="middle" >7</text>
<text x="396.20" y="114.30" font-size="18.3" text-anchor="middle" >8</text>
<text x="256.80" y="98.40" font-size="18.3" text-anchor="end" >0.0</text>
<text x="256.80" y="80.55" font-size="18.3" text-anchor="end" >0.5</text>
<text x="256.80" y="62.70" font-size="18.3" text-anchor="end" >1.0</text>
<text x="256.80" y="44.85" font-size="18.3" text-anchor="end" >1.5</text>
<text x="256.80" y="27.00" font-size="18.3" text-anchor="end" >2.0</text>
<polyline points="261.50,56.80 288.60,15.40 315.30,82.60 342.10,91.40 369.00,93.05 396.00,93.05" fill="none" stroke="#f00" stroke-width="1.65" stroke-linejoin="round"/>
<polyline points="261.50,56.80 288.60,15.40 315.30,82.60 342.10,91.40 369.00,93.05 396.00,93.05" fill="none" stroke="#2ccc00" stroke-width="0.75" stroke-linejoin="round"/>
<circle cx="261.50" cy="56.80" r="2.4" fill="#e02800"/>
<rect x="259.70" y="55.00" width="3.6" height="3.6" rx="0.9" fill="#0f0"/>
<circle cx="288.60" cy="15.40" r="2.4" fill="#e02800"/>
<rect x="286.80" y="13.60" width="3.6" height="3.6" rx="0.9" fill="#0f0"/>
<circle cx="315.30" cy="82.60" r="2.4" fill="#e02800"/>
<rect x="313.50" y="80.80" width="3.6" height="3.6" rx="0.9" fill="#0f0"/>
<circle cx="342.10" cy="91.40" r="2.4" fill="#e02800"/>
<rect x="340.30" y="89.60" width="3.6" height="3.6" rx="0.9" fill="#0f0"/>
<circle cx="369.00" cy="93.05" r="2.4" fill="#e02800"/>
<rect x="367.20" y="91.25" width="3.6" height="3.6" rx="0.9" fill="#0f0"/>
<circle cx="396.00" cy="93.05" r="2.4" fill="#e02800"/>
<rect x="394.20" y="91.25" width="3.6" height="3.6" rx="0.9" fill="#0f0"/>
<rect x="305.8" y="17.4" width="85.8" height="30.0" fill="#fff" stroke="#777" stroke-width="0.8"/>
<line x1="307.40" y1="25.50" x2="320.30" y2="25.50" stroke="#f00" stroke-width="1.35"/>
<circle cx="313.85" cy="25.5" r="1.75" fill="#f00"/>
<line x1="307.40" y1="39.50" x2="320.30" y2="39.50" stroke="#8f8" stroke-width="1.0"/>
<rect x="312.25" y="37.9" width="3.2" height="3.2" rx="0.5" fill="#0f0"/>
<text x="321.20" y="30.30" font-size="15.45" text-anchor="start" >Two waves</text>
<text x="321.2" y="44.2" font-size="15.45"><tspan font-style="italic">b</tspan><tspan dx="4.3">=</tspan><tspan dx="4.4">0</tspan></text>
<rect x="260.3" y="236.5" width="140.2" height="86.0" fill="#fff" stroke="#a8a8a8" stroke-width="0.8"/>
<line x1="260.78" y1="322.90" x2="260.78" y2="321.80" stroke="#626262" stroke-width="0.9"/>
<line x1="260.78" y1="236.10" x2="260.78" y2="237.20" stroke="#626262" stroke-width="0.9"/>
<line x1="267.44" y1="322.90" x2="267.44" y2="321.80" stroke="#626262" stroke-width="0.9"/>
<line x1="267.44" y1="236.10" x2="267.44" y2="237.20" stroke="#626262" stroke-width="0.9"/>
<line x1="274.10" y1="322.90" x2="274.10" y2="321.80" stroke="#626262" stroke-width="0.9"/>
<line x1="274.10" y1="236.10" x2="274.10" y2="237.20" stroke="#626262" stroke-width="0.9"/>
<line x1="280.76" y1="322.90" x2="280.76" y2="321.80" stroke="#626262" stroke-width="0.9"/>
<line x1="280.76" y1="236.10" x2="280.76" y2="237.20" stroke="#626262" stroke-width="0.9"/>
<line x1="287.42" y1="322.90" x2="287.42" y2="321.80" stroke="#626262" stroke-width="0.9"/>
<line x1="287.42" y1="236.10" x2="287.42" y2="237.20" stroke="#626262" stroke-width="0.9"/>
<line x1="294.08" y1="322.90" x2="294.08" y2="321.80" stroke="#626262" stroke-width="0.9"/>
<line x1="294.08" y1="236.10" x2="294.08" y2="237.20" stroke="#626262" stroke-width="0.9"/>
<line x1="300.74" y1="322.90" x2="300.74" y2="321.80" stroke="#626262" stroke-width="0.9"/>
<line x1="300.74" y1="236.10" x2="300.74" y2="237.20" stroke="#626262" stroke-width="0.9"/>
<line x1="307.40" y1="322.90" x2="307.40" y2="321.80" stroke="#626262" stroke-width="0.9"/>
<line x1="307.40" y1="236.10" x2="307.40" y2="237.20" stroke="#626262" stroke-width="0.9"/>
<line x1="314.06" y1="322.90" x2="314.06" y2="321.80" stroke="#626262" stroke-width="0.9"/>
<line x1="314.06" y1="236.10" x2="314.06" y2="237.20" stroke="#626262" stroke-width="0.9"/>
<line x1="320.72" y1="322.90" x2="320.72" y2="321.80" stroke="#626262" stroke-width="0.9"/>
<line x1="320.72" y1="236.10" x2="320.72" y2="237.20" stroke="#626262" stroke-width="0.9"/>
<line x1="327.38" y1="322.90" x2="327.38" y2="321.80" stroke="#626262" stroke-width="0.9"/>
<line x1="327.38" y1="236.10" x2="327.38" y2="237.20" stroke="#626262" stroke-width="0.9"/>
<line x1="334.04" y1="322.90" x2="334.04" y2="321.80" stroke="#626262" stroke-width="0.9"/>
<line x1="334.04" y1="236.10" x2="334.04" y2="237.20" stroke="#626262" stroke-width="0.9"/>
<line x1="340.70" y1="322.90" x2="340.70" y2="321.80" stroke="#626262" stroke-width="0.9"/>
<line x1="340.70" y1="236.10" x2="340.70" y2="237.20" stroke="#626262" stroke-width="0.9"/>
<line x1="347.36" y1="322.90" x2="347.36" y2="321.80" stroke="#626262" stroke-width="0.9"/>
<line x1="347.36" y1="236.10" x2="347.36" y2="237.20" stroke="#626262" stroke-width="0.9"/>
<line x1="354.02" y1="322.90" x2="354.02" y2="321.80" stroke="#626262" stroke-width="0.9"/>
<line x1="354.02" y1="236.10" x2="354.02" y2="237.20" stroke="#626262" stroke-width="0.9"/>
<line x1="360.68" y1="322.90" x2="360.68" y2="321.80" stroke="#626262" stroke-width="0.9"/>
<line x1="360.68" y1="236.10" x2="360.68" y2="237.20" stroke="#626262" stroke-width="0.9"/>
<line x1="367.34" y1="322.90" x2="367.34" y2="321.80" stroke="#626262" stroke-width="0.9"/>
<line x1="367.34" y1="236.10" x2="367.34" y2="237.20" stroke="#626262" stroke-width="0.9"/>
<line x1="374.00" y1="322.90" x2="374.00" y2="321.80" stroke="#626262" stroke-width="0.9"/>
<line x1="374.00" y1="236.10" x2="374.00" y2="237.20" stroke="#626262" stroke-width="0.9"/>
<line x1="380.66" y1="322.90" x2="380.66" y2="321.80" stroke="#626262" stroke-width="0.9"/>
<line x1="380.66" y1="236.10" x2="380.66" y2="237.20" stroke="#626262" stroke-width="0.9"/>
<line x1="387.32" y1="322.90" x2="387.32" y2="321.80" stroke="#626262" stroke-width="0.9"/>
<line x1="387.32" y1="236.10" x2="387.32" y2="237.20" stroke="#626262" stroke-width="0.9"/>
<line x1="393.98" y1="322.90" x2="393.98" y2="321.80" stroke="#626262" stroke-width="0.9"/>
<line x1="393.98" y1="236.10" x2="393.98" y2="237.20" stroke="#626262" stroke-width="0.9"/>
<line x1="274.10" y1="322.90" x2="274.10" y2="320.80" stroke="#626262" stroke-width="0.9"/>
<line x1="274.10" y1="236.10" x2="274.10" y2="238.20" stroke="#626262" stroke-width="0.9"/>
<line x1="307.40" y1="322.90" x2="307.40" y2="320.80" stroke="#626262" stroke-width="0.9"/>
<line x1="307.40" y1="236.10" x2="307.40" y2="238.20" stroke="#626262" stroke-width="0.9"/>
<line x1="340.70" y1="322.90" x2="340.70" y2="320.80" stroke="#626262" stroke-width="0.9"/>
<line x1="340.70" y1="236.10" x2="340.70" y2="238.20" stroke="#626262" stroke-width="0.9"/>
<line x1="374.00" y1="322.90" x2="374.00" y2="320.80" stroke="#626262" stroke-width="0.9"/>
<line x1="374.00" y1="236.10" x2="374.00" y2="238.20" stroke="#626262" stroke-width="0.9"/>
<line x1="259.90" y1="320.80" x2="261.00" y2="320.80" stroke="#626262" stroke-width="0.9"/>
<line x1="400.90" y1="320.80" x2="399.80" y2="320.80" stroke="#626262" stroke-width="0.9"/>
<line x1="259.90" y1="316.98" x2="261.00" y2="316.98" stroke="#626262" stroke-width="0.9"/>
<line x1="400.90" y1="316.98" x2="399.80" y2="316.98" stroke="#626262" stroke-width="0.9"/>
<line x1="259.90" y1="313.15" x2="261.00" y2="313.15" stroke="#626262" stroke-width="0.9"/>
<line x1="400.90" y1="313.15" x2="399.80" y2="313.15" stroke="#626262" stroke-width="0.9"/>
<line x1="259.90" y1="309.32" x2="261.00" y2="309.32" stroke="#626262" stroke-width="0.9"/>
<line x1="400.90" y1="309.32" x2="399.80" y2="309.32" stroke="#626262" stroke-width="0.9"/>
<line x1="259.90" y1="305.50" x2="261.00" y2="305.50" stroke="#626262" stroke-width="0.9"/>
<line x1="400.90" y1="305.50" x2="399.80" y2="305.50" stroke="#626262" stroke-width="0.9"/>
<line x1="259.90" y1="301.68" x2="261.00" y2="301.68" stroke="#626262" stroke-width="0.9"/>
<line x1="400.90" y1="301.68" x2="399.80" y2="301.68" stroke="#626262" stroke-width="0.9"/>
<line x1="259.90" y1="297.85" x2="261.00" y2="297.85" stroke="#626262" stroke-width="0.9"/>
<line x1="400.90" y1="297.85" x2="399.80" y2="297.85" stroke="#626262" stroke-width="0.9"/>
<line x1="259.90" y1="294.03" x2="261.00" y2="294.03" stroke="#626262" stroke-width="0.9"/>
<line x1="400.90" y1="294.03" x2="399.80" y2="294.03" stroke="#626262" stroke-width="0.9"/>
<line x1="259.90" y1="290.20" x2="261.00" y2="290.20" stroke="#626262" stroke-width="0.9"/>
<line x1="400.90" y1="290.20" x2="399.80" y2="290.20" stroke="#626262" stroke-width="0.9"/>
<line x1="259.90" y1="286.38" x2="261.00" y2="286.38" stroke="#626262" stroke-width="0.9"/>
<line x1="400.90" y1="286.38" x2="399.80" y2="286.38" stroke="#626262" stroke-width="0.9"/>
<line x1="259.90" y1="282.55" x2="261.00" y2="282.55" stroke="#626262" stroke-width="0.9"/>
<line x1="400.90" y1="282.55" x2="399.80" y2="282.55" stroke="#626262" stroke-width="0.9"/>
<line x1="259.90" y1="278.73" x2="261.00" y2="278.73" stroke="#626262" stroke-width="0.9"/>
<line x1="400.90" y1="278.73" x2="399.80" y2="278.73" stroke="#626262" stroke-width="0.9"/>
<line x1="259.90" y1="274.90" x2="261.00" y2="274.90" stroke="#626262" stroke-width="0.9"/>
<line x1="400.90" y1="274.90" x2="399.80" y2="274.90" stroke="#626262" stroke-width="0.9"/>
<line x1="259.90" y1="271.07" x2="261.00" y2="271.07" stroke="#626262" stroke-width="0.9"/>
<line x1="400.90" y1="271.07" x2="399.80" y2="271.07" stroke="#626262" stroke-width="0.9"/>
<line x1="259.90" y1="267.25" x2="261.00" y2="267.25" stroke="#626262" stroke-width="0.9"/>
<line x1="400.90" y1="267.25" x2="399.80" y2="267.25" stroke="#626262" stroke-width="0.9"/>
<line x1="259.90" y1="263.43" x2="261.00" y2="263.43" stroke="#626262" stroke-width="0.9"/>
<line x1="400.90" y1="263.43" x2="399.80" y2="263.43" stroke="#626262" stroke-width="0.9"/>
<line x1="259.90" y1="259.60" x2="261.00" y2="259.60" stroke="#626262" stroke-width="0.9"/>
<line x1="400.90" y1="259.60" x2="399.80" y2="259.60" stroke="#626262" stroke-width="0.9"/>
<line x1="259.90" y1="255.78" x2="261.00" y2="255.78" stroke="#626262" stroke-width="0.9"/>
<line x1="400.90" y1="255.78" x2="399.80" y2="255.78" stroke="#626262" stroke-width="0.9"/>
<line x1="259.90" y1="251.95" x2="261.00" y2="251.95" stroke="#626262" stroke-width="0.9"/>
<line x1="400.90" y1="251.95" x2="399.80" y2="251.95" stroke="#626262" stroke-width="0.9"/>
<line x1="259.90" y1="248.12" x2="261.00" y2="248.12" stroke="#626262" stroke-width="0.9"/>
<line x1="400.90" y1="248.12" x2="399.80" y2="248.12" stroke="#626262" stroke-width="0.9"/>
<line x1="259.90" y1="244.30" x2="261.00" y2="244.30" stroke="#626262" stroke-width="0.9"/>
<line x1="400.90" y1="244.30" x2="399.80" y2="244.30" stroke="#626262" stroke-width="0.9"/>
<line x1="259.90" y1="240.48" x2="261.00" y2="240.48" stroke="#626262" stroke-width="0.9"/>
<line x1="400.90" y1="240.48" x2="399.80" y2="240.48" stroke="#626262" stroke-width="0.9"/>
<line x1="259.90" y1="320.80" x2="262.00" y2="320.80" stroke="#626262" stroke-width="0.9"/>
<line x1="400.90" y1="320.80" x2="398.80" y2="320.80" stroke="#626262" stroke-width="0.9"/>
<line x1="259.90" y1="305.50" x2="262.00" y2="305.50" stroke="#626262" stroke-width="0.9"/>
<line x1="400.90" y1="305.50" x2="398.80" y2="305.50" stroke="#626262" stroke-width="0.9"/>
<line x1="259.90" y1="290.20" x2="262.00" y2="290.20" stroke="#626262" stroke-width="0.9"/>
<line x1="400.90" y1="290.20" x2="398.80" y2="290.20" stroke="#626262" stroke-width="0.9"/>
<line x1="259.90" y1="274.90" x2="262.00" y2="274.90" stroke="#626262" stroke-width="0.9"/>
<line x1="400.90" y1="274.90" x2="398.80" y2="274.90" stroke="#626262" stroke-width="0.9"/>
<line x1="259.90" y1="259.60" x2="262.00" y2="259.60" stroke="#626262" stroke-width="0.9"/>
<line x1="400.90" y1="259.60" x2="398.80" y2="259.60" stroke="#626262" stroke-width="0.9"/>
<line x1="259.90" y1="244.30" x2="262.00" y2="244.30" stroke="#626262" stroke-width="0.9"/>
<line x1="400.90" y1="244.30" x2="398.80" y2="244.30" stroke="#626262" stroke-width="0.9"/>
<text x="274.10" y="341.00" font-size="18.3" text-anchor="middle" >3</text>
<text x="307.40" y="341.00" font-size="18.3" text-anchor="middle" >4</text>
<text x="340.70" y="341.00" font-size="18.3" text-anchor="middle" >5</text>
<text x="374.00" y="341.00" font-size="18.3" text-anchor="middle" >6</text>
<text x="258.80" y="326.50" font-size="18.3" text-anchor="end" >0.0</text>
<text x="258.80" y="311.20" font-size="18.3" text-anchor="end" >0.2</text>
<text x="258.80" y="295.90" font-size="18.3" text-anchor="end" >0.4</text>
<text x="258.80" y="280.60" font-size="18.3" text-anchor="end" >0.6</text>
<text x="258.80" y="265.30" font-size="18.3" text-anchor="end" >0.8</text>
<text x="258.80" y="250.00" font-size="18.3" text-anchor="end" >1.0</text>
<polyline points="274.10,244.10 307.40,315.20 340.60,320.30 374.00,320.30" fill="none" stroke="#f00" stroke-width="1.65" stroke-linejoin="round"/>
<polyline points="274.10,244.10 307.40,315.20 340.60,320.30 374.00,320.30" fill="none" stroke="#2ccc00" stroke-width="0.75" stroke-linejoin="round"/>
<circle cx="274.10" cy="244.10" r="2.4" fill="#e02800"/>
<rect x="272.30" y="242.30" width="3.6" height="3.6" rx="0.9" fill="#0f0"/>
<circle cx="307.40" cy="315.20" r="2.4" fill="#e02800"/>
<rect x="305.60" y="313.40" width="3.6" height="3.6" rx="0.9" fill="#0f0"/>
<circle cx="340.60" cy="320.30" r="2.4" fill="#e02800"/>
<rect x="338.80" y="318.50" width="3.6" height="3.6" rx="0.9" fill="#0f0"/>
<circle cx="374.00" cy="320.30" r="2.4" fill="#e02800"/>
<rect x="372.20" y="318.50" width="3.6" height="3.6" rx="0.9" fill="#0f0"/>
<rect x="306.6" y="243.3" width="85.5" height="30.0" fill="#fff" stroke="#777" stroke-width="0.8"/>
<line x1="307.40" y1="251.40" x2="320.30" y2="251.40" stroke="#f00" stroke-width="1.35"/>
<circle cx="313.85" cy="251.4" r="1.75" fill="#f00"/>
<line x1="307.40" y1="265.40" x2="320.30" y2="265.40" stroke="#8f8" stroke-width="1.0"/>
<rect x="312.25" y="263.8" width="3.2" height="3.2" rx="0.5" fill="#0f0"/>
<text x="321.20" y="256.20" font-size="15.45" text-anchor="start" >Two waves</text>
<text x="321.2" y="270.1" font-size="15.45"><tspan font-style="italic">b</tspan><tspan dx="4.3">=</tspan><tspan dx="4.4">0</tspan></text>
</g>
</svg>
</body></html>
